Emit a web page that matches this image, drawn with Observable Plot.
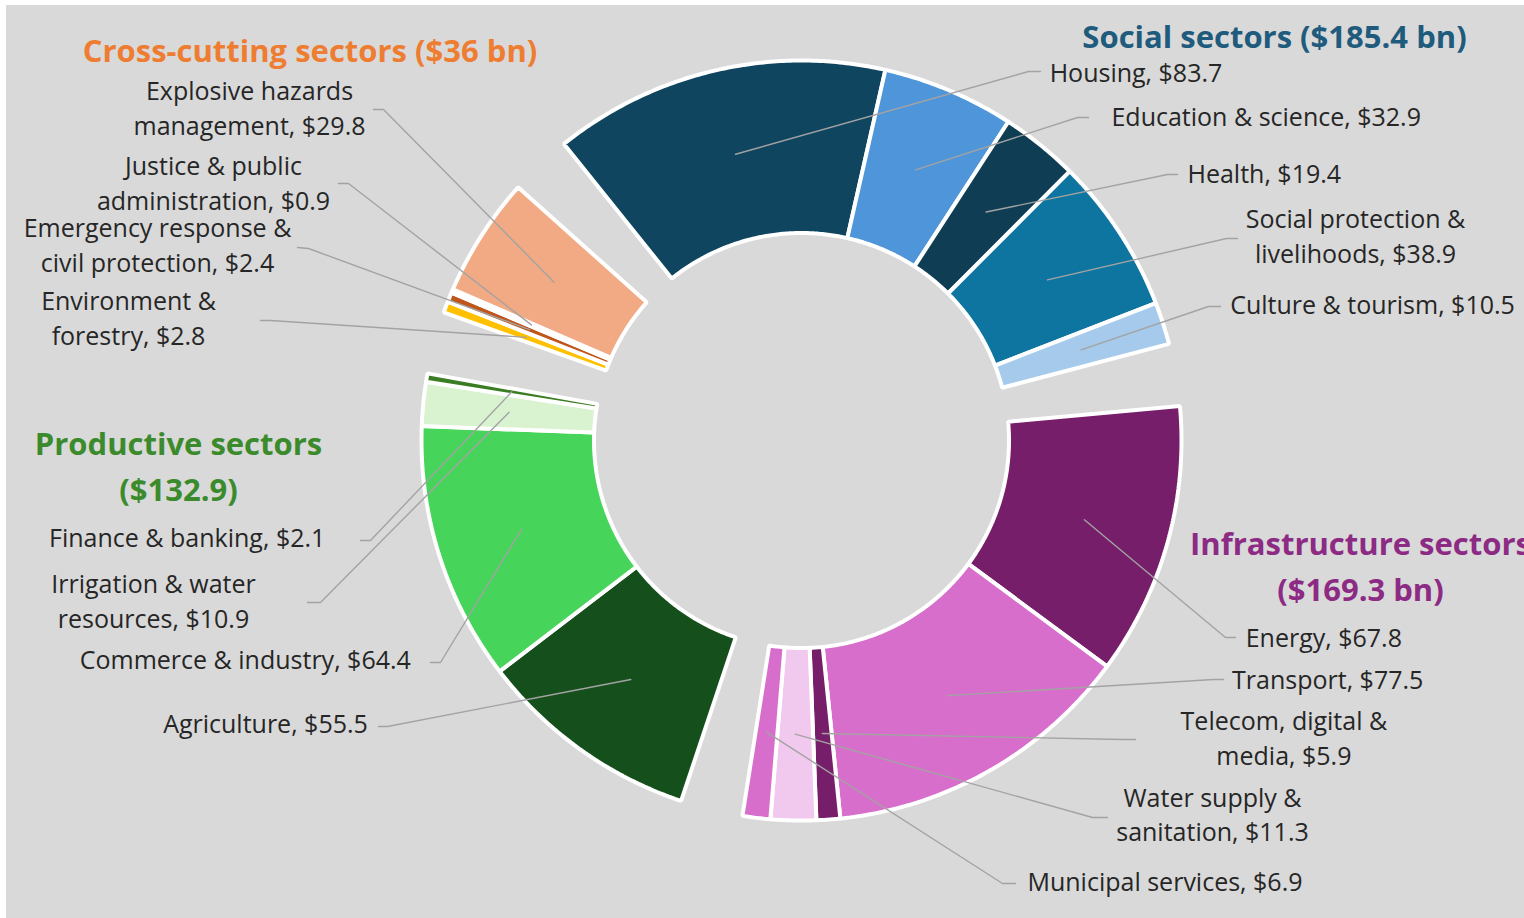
<!DOCTYPE html>
<html>
<head>
<meta charset="utf-8">
<script src="https://cdn.jsdelivr.net/npm/d3@7"></script>
<script src="https://cdn.jsdelivr.net/npm/@observablehq/plot@0.6"></script>
<style>
  html, body { margin: 0; padding: 0; background: #ffffff; }
  #chart { width: 1524px; height: 918px; background: #d9d9d9; box-shadow: inset 6px 5px 0 #ffffff; overflow: hidden; }
  #chart svg { display: block; }
</style>
</head>
<body>
<div id="chart"></div>
<script>
// ---------------- DATA ----------------
const groupNames  = ["Social sectors", "Infrastructure sectors", "Productive sectors", "Cross-cutting sectors"];
const groupTitles = ["Social sectors ($185.4 bn)", "Infrastructure sectors\n($169.3 bn)", "Productive sectors\n($132.9)", "Cross-cutting sectors ($36 bn)"];

const sectorNames = [
  "Housing", "Education & science", "Health", "Social protection & livelihoods", "Culture & tourism",
  "Energy", "Transport", "Telecom, digital & media", "Water supply & sanitation", "Municipal services",
  "Agriculture", "Commerce & industry", "Irrigation & water resources", "Finance & banking",
  "Environment & forestry", "Emergency response & civil protection", "Justice & public administration", "Explosive hazards management"
];
const sectorGroup  = [0, 0, 0, 0, 0, 1, 1, 1, 1, 1, 2, 2, 2, 2, 3, 3, 3, 3];
const sectorValues = [83.7, 32.9, 19.4, 38.9, 10.5, 67.8, 77.5, 5.9, 11.3, 6.9, 55.5, 64.4, 10.9, 2.1, 2.8, 2.4, 0.9, 29.8];
const sectorLabels = [
  "Housing, $83.7", "Education & science, $32.9", "Health, $19.4", "Social protection &\nlivelihoods, $38.9", "Culture & tourism, $10.5",
  "Energy, $67.8", "Transport, $77.5", "Telecom, digital &\nmedia, $5.9", "Water supply &\nsanitation, $11.3", "Municipal services, $6.9",
  "Agriculture, $55.5", "Commerce & industry, $64.4", "Irrigation & water\nresources, $10.9", "Finance & banking, $2.1",
  "Environment &\nforestry, $2.8", "Emergency response &\ncivil protection, $2.4", "Justice & public\nadministration, $0.9", "Explosive hazards\nmanagement, $29.8"
];

// ---------------- STYLES ----------------
const sectorColors = [
  "#10455f", "#4e95d9", "#0e3d54", "#0e75a0", "#a6caec",
  "#771e6a", "#d86ecc", "#771e6a", "#f2c9ee", "#d86ecc",
  "#154f1b", "#47d45a", "#d9f2d0", "#3b7d23",
  "#ffc000", "#c0561a", "#fbe5d6", "#f2aa84"
];
const titleColors = ["#1f5b7c", "#8c2a84", "#3b8b2d", "#ee7d31"];
const FONT = "'Open Sans', Lato, sans-serif";

// ---------------- LAYOUT ----------------
const W = 1524, H = 918;
const CX = 801, CY = 440, R_OUT = 380, R_IN = 207.5;
const START_DEG = -38.7;   // clockwise from 12 o'clock, start of first sector
const GAP = 15.5;          // spacer between groups (value units)
const titlePos = [[1274, 33], [1360, 563], [178, 463], [309.5, 47]];
const labelPos = [
  [1135.5, 70], [1265.7, 114], [1263.8, 171.5], [1355, 233.5], [1372, 302.5],
  [1323.3, 635.5], [1327.2, 677], [1283.4, 735.5], [1212, 812.3], [1164.5, 879],
  [265, 721], [244.8, 657.5], [153, 598.5], [186.7, 535],
  [128, 315.8], [157, 242.7], [213, 180.5], [249, 105.5]
];
const leaderElbow = [
  [1028, 71], [1077, 117], [1167, 174], [1226, 238], [1208, 306],
  [1225, 637], [1213, 679], [1122, 739], [1092, 817], [1002, 883],
  [387, 726], [440, 662], [320, 602], [370, 540],
  [270, 320], [308, 248], [348, 183], [383, 109]
];
const leaderEnd = [
  [1040, 71], [1088, 117], [1177, 174], [1237, 238], [1220, 306],
  [1235, 637], [1223, 679], [1135, 739], [1107, 817], [1015, 883],
  [378, 726], [430, 662], [307, 602], [360, 540],
  [260, 320], [297, 247], [338, 183], [373, 109]
];

// ---------------- GEOMETRY FROM DATA ----------------
const total = d3.sum(sectorValues) + GAP * groupNames.length;
const degPerUnit = 360 / total;
const polar = (deg, r) => {
  const a = deg * Math.PI / 180;
  return {x: CX + r * Math.sin(a), y: CY - r * Math.cos(a)};
};

const slices = [];
let acc = 0;
groupNames.forEach((g, gi) => {
  sectorNames.forEach((name, i) => {
    if (sectorGroup[i] !== gi) return;
    const a0 = START_DEG + acc * degPerUnit;
    acc += sectorValues[i];
    const a1 = START_DEG + acc * degPerUnit;
    slices.push({i, name, a0, a1, color: sectorColors[i]});
  });
  acc += GAP;
});

function slicePolygon(s) {
  const n = Math.max(2, Math.ceil((s.a1 - s.a0) / 0.5));
  const pts = [];
  for (let j = 0; j <= n; j++) pts.push(polar(s.a0 + (s.a1 - s.a0) * j / n, R_OUT));
  for (let j = n; j >= 0; j--) pts.push(polar(s.a0 + (s.a1 - s.a0) * j / n, R_IN));
  return pts;
}

const leaders = [];
slices.forEach(s => {
  const c = polar((s.a0 + s.a1) / 2, (R_IN + R_OUT) / 2);
  const e = leaderElbow[s.i], f = leaderEnd[s.i];
  leaders.push({name: s.name, x: c.x, y: c.y});
  leaders.push({name: s.name, x: e[0], y: e[1]});
  leaders.push({name: s.name, x: f[0], y: f[1]});
});

const labels = sectorLabels.map((t, i) => ({text: t, x: labelPos[i][0], y: labelPos[i][1]}));
const titles = groupTitles.map((t, i) => ({text: t, x: titlePos[i][0], y: titlePos[i][1], color: titleColors[i]}));

const marks = slices.map(s => Plot.line(slicePolygon(s), {
  x: "x", y: "y", fill: s.color, stroke: "#ffffff", strokeWidth: 4,
  strokeLinejoin: "miter", curve: "linear-closed"
}));
marks.push(Plot.line(leaders, {x: "x", y: "y", z: "name", stroke: "#a3a3a3", strokeWidth: 1.4}));
marks.push(Plot.text(labels, {
  x: "x", y: "y", text: "text", fontSize: 25, fill: "#262626",
  textAnchor: "middle", lineAnchor: "middle", lineHeight: 1.4, fontFamily: FONT
}));
marks.push(Plot.text(titles, {
  x: "x", y: "y", text: "text", fontSize: 31, fontWeight: "bold", fill: "color",
  textAnchor: "middle", lineAnchor: "middle", lineHeight: 1.48, fontFamily: FONT
}));

const chart = Plot.plot({
  width: W, height: H,
  margin: 0,
  x: {domain: [0, W], range: [0, W], axis: null},
  y: {domain: [0, H], range: [0, H], axis: null},
  color: {type: "identity"},
  style: {background: "transparent", fontFamily: FONT, overflow: "hidden"},
  marks
});
document.getElementById("chart").appendChild(chart);
</script>
</body>
</html>
